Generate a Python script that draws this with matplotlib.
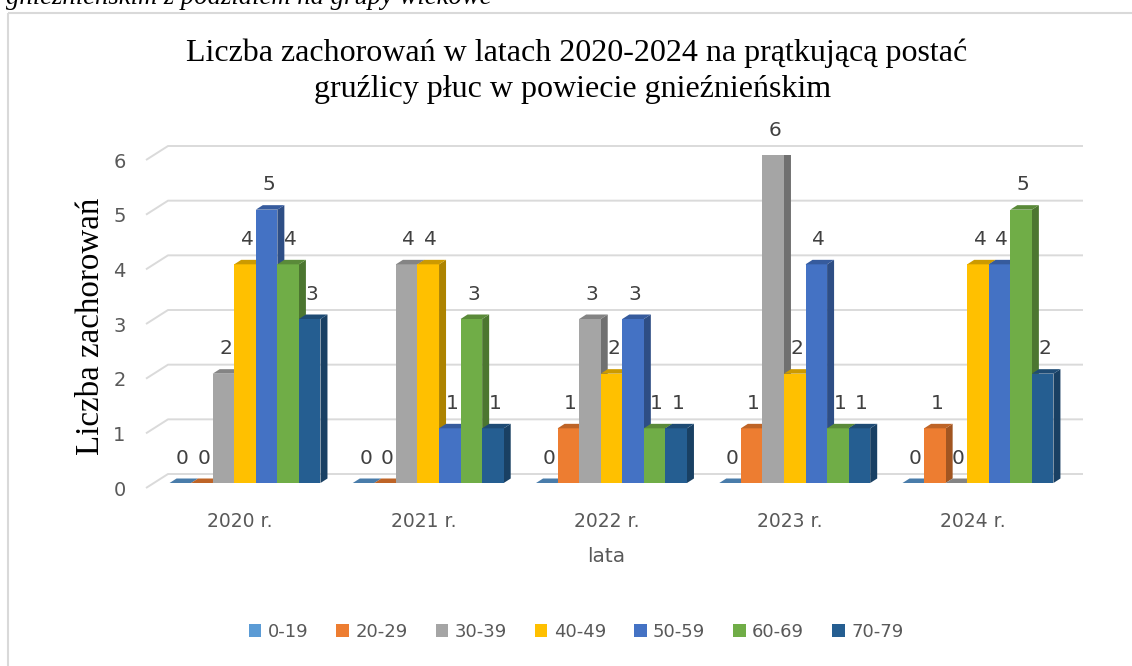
import matplotlib
matplotlib.use("Agg")
import matplotlib.pyplot as plt
from matplotlib.patches import Polygon, Patch, Rectangle
from matplotlib.transforms import Affine2D, ScaledTranslation
import matplotlib.colors as mcolors
import numpy as np

# ---- data ----
years = ["2020 r.", "2021 r.", "2022 r.", "2023 r.", "2024 r."]
groups = ["0-19", "20-29", "30-39", "40-49", "50-59", "60-69", "70-79"]
v_0_19 = [0, 0, 0, 0, 0]
v_20_29 = [0, 0, 1, 1, 1]
v_30_39 = [2, 4, 3, 6, 0]
v_40_49 = [4, 4, 2, 2, 4]
v_50_59 = [5, 1, 3, 4, 4]
v_60_69 = [4, 3, 1, 1, 5]
v_70_79 = [3, 1, 1, 1, 2]
series = [v_0_19, v_20_29, v_30_39, v_40_49, v_50_59, v_60_69, v_70_79]
colors = ["#5B9BD5", "#ED7D31", "#A5A5A5", "#FFC000", "#4472C4", "#70AD47", "#255E91"]
y_ticks = [0, 1, 2, 3, 4, 5, 6]

title1 = "Liczba zachorowań w latach 2020-2024 na prątkującą postać"
title2 = "gruźlicy płuc w powiecie gnieźnieńskim"
ylabel = "Liczba zachorowań"
xlabel = "lata"
top_text = "gnieźnieńskim z podziałem na grupy wiekowe"

# ---- layout ----
W, H = 1132, 666
fig = plt.figure(figsize=(W / 100, H / 100), dpi=100)
fig.patch.set_facecolor("white")
pix = Affine2D().scale(1 / W, -1 / H).translate(0, 1) + fig.transFigure

ax_left, ax_right = 153.4, 1069.6
ax_top, ax_bot = 155.0, 483.0
ax = fig.add_axes([ax_left / W, 1 - ax_bot / H, (ax_right - ax_left) / W, (ax_bot - ax_top) / H])
ax.set_xlim(-0.5, len(years) - 0.5)
ax.set_ylim(0, 6)
ax.patch.set_alpha(0)
for s in ax.spines.values():
    s.set_visible(False)

sx = (ax_right - ax_left) / len(years)   # px per x unit
sy = (ax_bot - ax_top) / 6.0             # px per y unit
def afrac(xpx):
    return (xpx - ax_left) / (ax_right - ax_left)

# gridlines (3D wall + floor look)
grid_c = "#DADADA"
for v in y_ticks:
    ax.plot([afrac(146), afrac(168), afrac(1083)],
            [v - 5 / sy, v + 9 / sy, v + 9 / sy],
            transform=ax.get_yaxis_transform(), color=grid_c, lw=1.4,
            clip_on=False, zorder=0.5, solid_capstyle="butt")

# bars with pseudo-3D faces
nb = len(groups)
bw = 1 / 8.5
ddx = 7 / sx
ddy = 4.5 / sy
x = np.arange(len(years))
def shade(c, f):
    r, g, b = mcolors.to_rgb(c)
    return (r * f, g * f, b * f)

for i, (vals, c) in enumerate(zip(series, colors)):
    xs = x + (i - (nb - 1) / 2) * bw
    z = 2 + i * 0.1
    ax.bar(xs, vals, width=bw, color=c, zorder=z + 0.02, linewidth=0)
    for xc, v in zip(xs, vals):
        l, r = xc - bw / 2, xc + bw / 2
        side = Polygon([(r, 0), (r + ddx, ddy), (r + ddx, v + ddy), (r, v)],
                       closed=True, facecolor=shade(c, 0.68), edgecolor="none", zorder=z)
        top = Polygon([(l, v), (l + ddx, v + ddy), (r + ddx, v + ddy), (r, v)],
                      closed=True, facecolor=shade(c, 0.8), edgecolor="none", zorder=z + 0.03)
        ax.add_patch(side)
        ax.add_patch(top)
        ax.annotate(str(v), (xc, v), xytext=(2 * 0.72, 25 * 0.72), textcoords="offset points",
                    ha="center", va="center", fontsize=14.5, color="#404040",
                    family="DejaVu Sans", zorder=10)

# ticks
ax.set_xticks(x)
ax.set_xticklabels(years, fontsize=13.5, color="#595959", family="DejaVu Sans")
ax.set_yticks(y_ticks)
ax.set_yticklabels([str(t) for t in y_ticks], fontsize=14, color="#595959", family="DejaVu Sans")
ax.tick_params(axis="x", length=0, pad=21)
ax.tick_params(axis="y", length=0, pad=20)
for lab in ax.get_yticklabels():
    lab.set_transform(lab.get_transform() + ScaledTranslation(0, -5 / 100, fig.dpi_scale_trans))
for lab in ax.get_xticklabels():
    lab.set_transform(lab.get_transform() + ScaledTranslation(-5 / 100, 0, fig.dpi_scale_trans))

fig.canvas.draw()
renderer = fig.canvas.get_renderer()
def fit(t, target, axis="x"):
    bb = t.get_window_extent(renderer)
    cur = bb.width if axis == "x" else bb.height
    t.set_fontsize(t.get_fontsize() * target / cur)

serif = ["Liberation Serif", "DejaVu Serif"]
t1 = fig.text(577, 53, title1, transform=pix, ha="center", va="center", fontsize=22,
              family=serif, color="black")
t2 = fig.text(573, 89, title2, transform=pix, ha="center", va="center", fontsize=22,
              family=serif, color="black")
fit(t1, 781)
t2.set_fontsize(t1.get_fontsize())

yl = fig.text(91, 326, ylabel, transform=pix, ha="center", va="center", rotation=90,
              fontsize=20, family=serif, color="black")
fit(yl, 257, axis="y")

fig.text(606, 557, xlabel, transform=pix, ha="center", va="center", fontsize=14.5,
         family="DejaVu Sans", color="#595959")

tt = fig.text(6, 4, top_text, transform=pix, ha="left", va="baseline", fontsize=16,
              family=serif, style="italic", color="black")
fit(tt, 486)

# chart border
fig.patches.append(Rectangle((7.5, 12.5), 1200, 800, transform=pix, fill=False,
                             edgecolor="#D9D9D9", lw=1.5))

# legend
handles = [Patch(facecolor=c, edgecolor="none", label=g) for g, c in zip(groups, colors)]
fig.legend(handles=handles, loc="center", bbox_to_anchor=(576 / W, 1 - 632 / H), ncol=7,
           frameon=False, labelcolor="#595959", handlelength=0.7,
           handleheight=0.7, handletextpad=0.35, columnspacing=1.55,
           prop={"family": "DejaVu Sans", "size": 13})

fig.savefig("out.png", dpi=100)
